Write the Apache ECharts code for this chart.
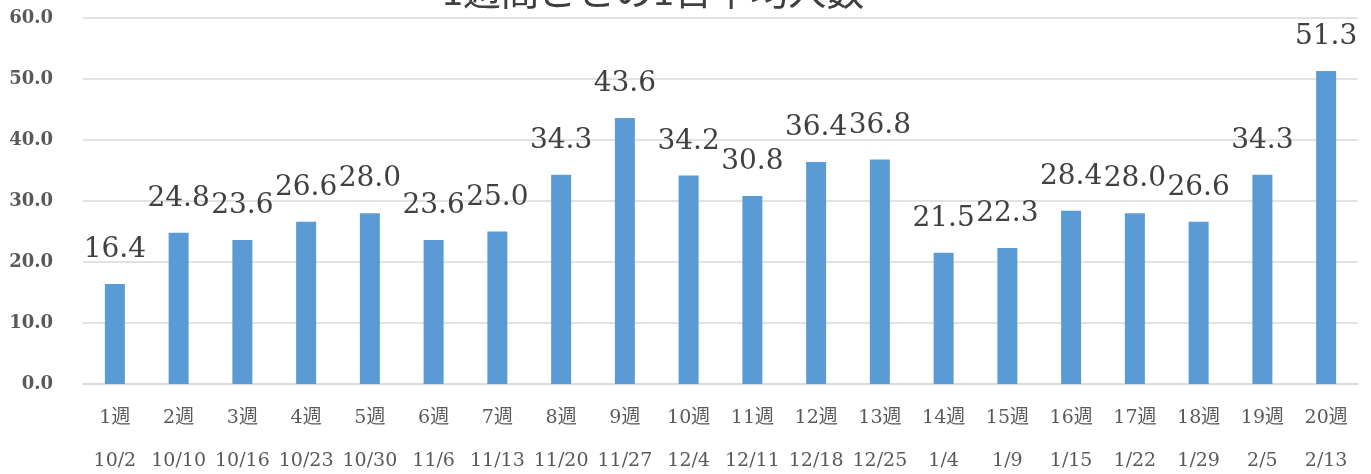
<!DOCTYPE html>
<html>
<head>
<meta charset="utf-8">
<script src="https://cdn.jsdelivr.net/npm/echarts@6/dist/echarts.min.js"></script>
<style>
  html, body { margin: 0; padding: 0; background: #fff; }
  #main { width: 1371px; height: 474px; }
</style>
</head>
<body>
<div id="main"></div>
<script>
// 週番号と開始日
var weeks = ['1週','2週','3週','4週','5週','6週','7週','8週','9週','10週',
             '11週','12週','13週','14週','15週','16週','17週','18週','19週','20週'];
var dates = ['10/2','10/10','10/16','10/23','10/30','11/6','11/13','11/20','11/27','12/4',
             '12/11','12/18','12/25','1/4','1/9','1/15','1/22','1/29','2/5','2/13'];
// 1日平均人数
var values = [16.4, 24.8, 23.6, 26.6, 28.0, 23.6, 25.0, 34.3, 43.6, 34.2,
              30.8, 36.4, 36.8, 21.5, 22.3, 28.4, 28.0, 26.6, 34.3, 51.3];

var categories = weeks.map(function (w, i) { return w + '\n' + dates[i]; });

var serif = "'DejaVu Serif', 'Noto Sans CJK JP', serif";

var myChart = echarts.init(document.getElementById('main'));

var option = {
    animation: false,
    title: {
        text: '1週間ごとの1日平均人数',
        left: 437,
        top: -33,
        textStyle: { fontFamily: "'Noto Sans CJK JP', sans-serif", fontSize: 38, fontWeight: 'normal', color: '#404040' }
    },
    grid: { left: 83, right: 13, top: 18, bottom: 90, containLabel: false, outerBoundsMode: 'none' },
    xAxis: {
        type: 'category',
        data: categories,
        axisLine: { lineStyle: { color: '#d9d9d9', width: 1.5 } },
        axisTick: { show: false },
        axisLabel: {
            interval: 0,
            fontFamily: serif,
            fontSize: 19,
            color: '#595959',
            lineHeight: 43,
            margin: 13
        }
    },
    yAxis: {
        type: 'value',
        min: 0,
        max: 60,
        interval: 10,
        axisLine: { show: false },
        axisTick: { show: false },
        splitLine: { lineStyle: { color: '#d9d9d9', width: 1.5 } },
        axisLabel: {
            fontFamily: serif,
            fontSize: 18,
            fontWeight: 'bold',
            color: '#595959',
            margin: 30,
            formatter: function (v) { return v.toFixed(1); }
        }
    },
    series: [{
        type: 'bar',
        data: values,
        barWidth: 20,
        itemStyle: { color: '#5b9bd5' },
        label: {
            show: true,
            position: 'top',
            distance: 20,
            fontFamily: serif,
            fontSize: 28,
            color: '#404040',
            formatter: function (p) { return p.value.toFixed(1); }
        }
    }]
};

myChart.setOption(option);
</script>
</body>
</html>
